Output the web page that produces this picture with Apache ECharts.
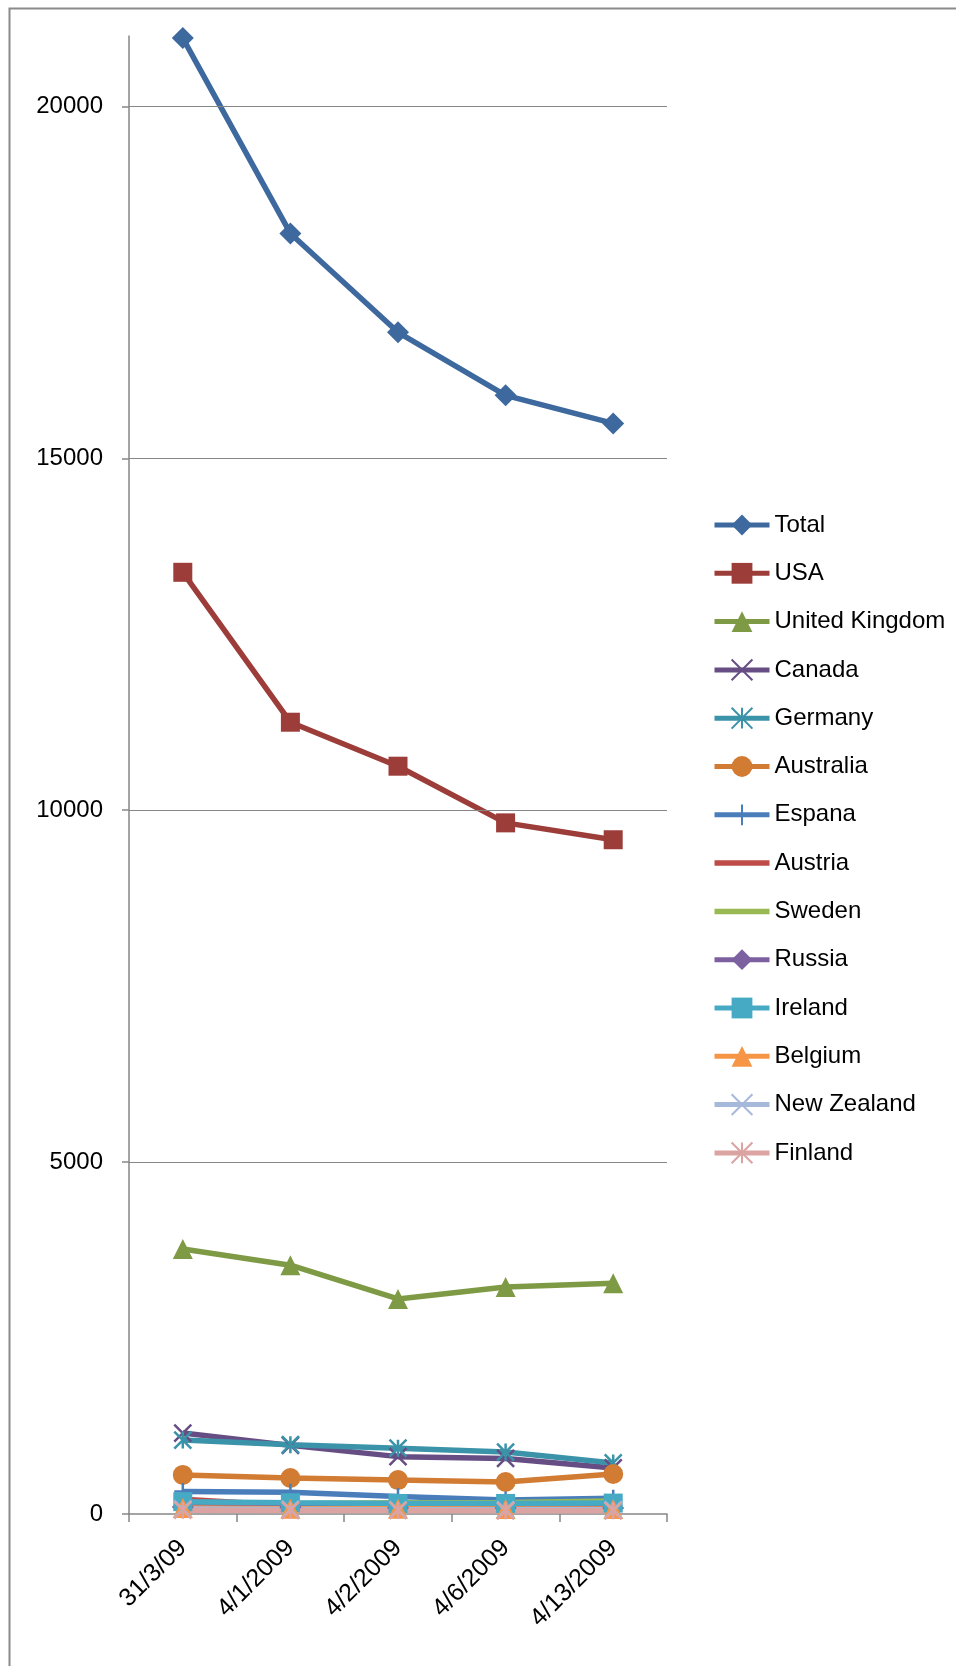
<!DOCTYPE html>
<html>
<head>
<meta charset="utf-8">
<script src="https://cdn.jsdelivr.net/npm/echarts@6/dist/echarts.min.js"></script>
<style>
html,body{margin:0;padding:0;background:#fff;}
#chart{width:956px;height:1666px;}
</style>
</head>
<body>
<div id="chart"></div>
<script>
var categories = ['31/3/09', '4/1/2009', '4/2/2009', '4/6/2009', '4/13/2009'];
var yTicks = [0, 5000, 10000, 15000, 20000];

var total       = [20970, 18195, 16790, 15895, 15495];
var usa         = [13380, 11250, 10625, 9820, 9580];
var uk          = [3765, 3535, 3055, 3225, 3280];
var canada      = [1150, 975, 815, 790, 655];
var germany     = [1050, 985, 935, 880, 725];
var australia   = [555, 512, 482, 455, 568];
var espana      = [320, 310, 250, 200, 225];
var austria     = [210, 120, 110, 100, 100];
var sweden      = [150, 150, 160, 165, 185];
var russia      = [100, 95, 90, 85, 85];
var ireland     = [175, 160, 150, 150, 155];
var belgium     = [85, 75, 75, 70, 70];
var newZealand  = [70, 65, 60, 60, 60];
var finland     = [55, 50, 50, 45, 45];

var X = 'path://M0,0L20,20M20,0L0,20';
var STAR = 'path://M0,0L20,20M20,0L0,20M10,0L10,20';
var PLUS = 'path://M10,0L10,20M0,10L20,10';
var BAR = 'path://M0,0L55,0L55,5.5L0,5.5Z';

var defs = [
  ['Total', total, '#3D699E', 'diamond', 22, false],
  ['USA', usa, '#9C3D3A', 'rect', 19, false],
  ['United Kingdom', uk, '#7E9A45', 'triangle', 20, false],
  ['Canada', canada, '#664E84', X, 17, true],
  ['Germany', germany, '#3A93A8', STAR, 17, true],
  ['Australia', australia, '#D27B33', 'circle', 20, false],
  ['Espana', espana, '#4A7EBB', PLUS, 17, true],
  ['Austria', austria, '#BE4B48', 'none', 0, false],
  ['Sweden', sweden, '#98B954', 'none', 0, false],
  ['Russia', russia, '#7D60A0', 'diamond', 22, false],
  ['Ireland', ireland, '#46AAC5', 'rect', 19, false],
  ['Belgium', belgium, '#F69545', 'triangle', 20, false],
  ['New Zealand', newZealand, '#A7B9DA', X, 17, true],
  ['Finland', finland, '#DBA3A1', STAR, 17, true]
];

var FONT = 'Liberation Sans';
var AXIS = '#868686';

var series = [{
  name: '__grid',
  type: 'line',
  data: [],
  z: 1,
  silent: true,
  markLine: {
    silent: true,
    symbol: 'none',
    label: {show: false},
    lineStyle: {color: AXIS, width: 1.2, type: 'solid'},
    data: yTicks.filter(function (v) { return v > 0; }).map(function (v) { return {yAxis: v}; })
  }
}];

defs.forEach(function (d) {
  series.push({
    name: d[0],
    type: 'line',
    data: d[1],
    z: 3,
    symbol: d[3],
    symbolSize: d[4],
    showSymbol: d[3] !== 'none',
    lineStyle: {color: d[2], width: 5.5},
    itemStyle: {color: d[5] ? 'rgba(0,0,0,0)' : d[2], borderColor: d[2], borderWidth: d[5] ? 2.5 : 0},
    emphasis: {disabled: true}
  });
});

var legendData = defs.map(function (d) {
  if (d[3] === 'none') {
    return {name: d[0], icon: BAR, itemStyle: {color: d[2], borderWidth: 0}};
  }
  return {name: d[0]};
});

var chart = echarts.init(document.getElementById('chart'), null, {renderer: 'canvas'});
chart.setOption({
  animation: false,
  backgroundColor: '#fff',
  graphic: [{
    type: 'rect',
    left: 7, top: 6,
    shape: {width: 1200, height: 2000},
    style: {fill: 'none', stroke: '#8a8a8a', lineWidth: 2},
    silent: true,
    z: 0
  }],
  grid: {left: 129, top: 36, right: 289, bottom: 152, containLabel: false},
  legend: {
    orient: 'vertical',
    left: 707,
    top: 508,
    itemWidth: 55,
    itemHeight: 26,
    itemGap: 24.3,
    data: legendData,
    lineStyle: {width: 5},
    textStyle: {fontFamily: FONT, fontSize: 24, color: '#000'}
  },
  xAxis: {
    type: 'category',
    data: categories,
    boundaryGap: true,
    axisLine: {lineStyle: {color: AXIS, width: 1.5}},
    axisTick: {show: true, length: 8, lineStyle: {color: AXIS, width: 1.5}},
    axisLabel: {rotate: 45, margin: 30, fontFamily: FONT, fontSize: 25, color: '#000'},
    splitLine: {show: false}
  },
  yAxis: {
    type: 'value',
    min: 0,
    max: 21000,
    interval: 5000,
    axisLine: {show: true, lineStyle: {color: AXIS, width: 1.5}},
    axisTick: {show: true, length: 7, customValues: yTicks, lineStyle: {color: AXIS, width: 1.5}},
    axisLabel: {
      customValues: yTicks,
      margin: 26,
      fontFamily: FONT, fontSize: 24, color: '#000',
      formatter: function (v) { return v > 20000 ? '' : String(v); }
    },
    splitLine: {show: false}
  },
  series: series
});
</script>
</body>
</html>
